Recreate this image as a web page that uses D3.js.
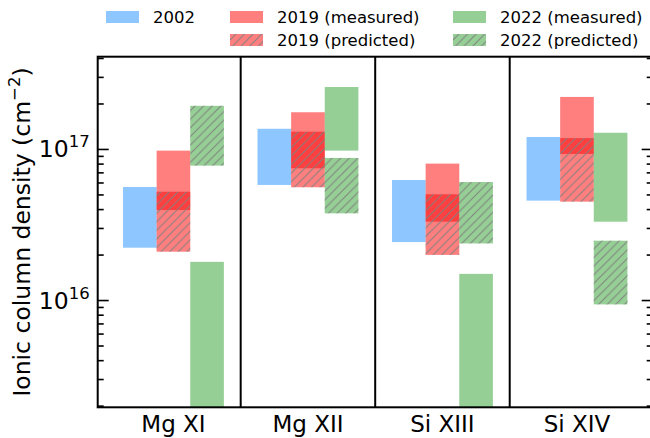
<!DOCTYPE html>
<html>
<head>
<meta charset="utf-8">
<script src="https://cdn.jsdelivr.net/npm/d3@7"></script>
<style>
  body { margin: 0; background: #fff; }
  svg { display: block; font-family: "DejaVu Sans", sans-serif; }
</style>
</head>
<body>
<div class="svg-container"></div>
<script>
// ions along the x axis
var ions = ["Mg XI", "Mg XII", "Si XIII", "Si XIV"];

// [low, high] column density ranges, cm^-2
var obs2002   = [[2.22e16, 5.6e16], [5.78e16, 1.36e17], [2.42e16, 6.23e16], [4.55e16, 1.20e17]];
var meas2019  = [[3.94e16, 9.75e16], [7.45e16, 1.75e17], [3.30e16, 8.0e16], [9.27e16, 2.21e17]];
var pred2019  = [[2.09e16, 5.21e16], [5.58e16, 1.30e17], [1.99e16, 5.01e16], [4.48e16, 1.18e17]];
var meas2022  = [[1e15, 1.79e16], [9.75e16, 2.57e17], [1e15, 1.49e16], [3.30e16, 1.28e17]];
var pred2022  = [[7.76e16, 1.93e17], [3.75e16, 8.72e16], [2.37e16, 6.04e16], [9.36e15, 2.47e16]];

var majorTicks = [1e16, 1e17];
var majorLabels = ["16", "17"];

var width = 650, height = 438;
// note: "top" is taken by window.top, so keep the margins in an object
var m = {left: 97.7, right: 652.7, top: 56.7, bottom: 407.3};
var barW = 0.25;

var x = d3.scaleLinear().domain([-0.563, 3.563]).range([m.left, m.right]);
var y = d3.scaleLog().domain([1.95e15, 4.08e17]).range([m.bottom, m.top]);

var series = [
  {name: "2002", data: obs2002, off: -0.25, color: "rgb(30,144,255)", hatch: false},
  {name: "2019 (measured)", data: meas2019, off: 0, color: "rgb(255,0,0)", hatch: false},
  {name: "2019 (predicted)", data: pred2019, off: 0, color: "rgb(255,0,0)", hatch: true},
  {name: "2022 (measured)", data: meas2022, off: 0.25, color: "rgb(44,160,44)", hatch: false},
  {name: "2022 (predicted)", data: pred2022, off: 0.25, color: "rgb(44,160,44)", hatch: true}
];

var svg = d3.select(".svg-container").append("svg")
  .attr("width", width).attr("height", height);

var defs = svg.append("defs");
var s = 8.6;
var pat = defs.append("pattern").attr("id", "hatch")
  .attr("patternUnits", "userSpaceOnUse")
  .attr("width", s).attr("height", s);
pat.append("path")
  .attr("d", "M0," + s + "L" + s + ",0M-2,2L2,-2M" + (s - 2) + "," + (s + 2) + "L" + (s + 2) + "," + (s - 2))
  .attr("stroke", "#808080").attr("stroke-width", 1).attr("fill", "none");

defs.append("clipPath").attr("id", "plotclip")
  .append("rect").attr("x", m.left).attr("y", m.top)
  .attr("width", m.right - m.left).attr("height", m.bottom - m.top);

var plot = svg.append("g").attr("clip-path", "url(#plotclip)");

series.forEach(function(sr) {
  var g = plot.append("g");
  var bars = g.selectAll("g").data(sr.data).enter().append("g");
  bars.append("rect")
    .attr("x", function(d, i) { return x(i + sr.off - barW / 2); })
    .attr("width", x(barW) - x(0))
    .attr("y", function(d) { return y(d[1]); })
    .attr("height", function(d) { return y(d[0]) - y(d[1]); })
    .attr("fill", sr.color).attr("fill-opacity", 0.5);
  if(sr.hatch) {
    bars.append("rect")
      .attr("x", function(d, i) { return x(i + sr.off - barW / 2); })
      .attr("width", x(barW) - x(0))
      .attr("y", function(d) { return y(d[1]); })
      .attr("height", function(d) { return y(d[0]) - y(d[1]); })
      .attr("fill", "url(#hatch)");
  }
});

// category separators
svg.append("g").selectAll("line")
  .data(d3.range(1, ions.length).map(function(i) { return i - 0.5; }))
  .enter().append("line")
  .attr("x1", function(d) { return x(d); }).attr("x2", function(d) { return x(d); })
  .attr("y1", m.top).attr("y2", m.bottom)
  .attr("stroke", "#000").attr("stroke-width", 2);

// ticks, pointing inward on both sides
var minorTicks = y.ticks().filter(function(t) { return majorTicks.indexOf(t) < 0; });

function tickAxis(axisFn, xpos, vals, size) {
  svg.append("g").attr("transform", "translate(" + xpos + ",0)")
    .call(axisFn(y).tickValues(vals).tickSize(-size).tickFormat(""))
    .call(function(g) { g.select(".domain").remove(); })
    .selectAll("line").attr("stroke", "#000").attr("stroke-width", 1.6);
}
tickAxis(d3.axisLeft, m.left, minorTicks, 6);
tickAxis(d3.axisLeft, m.left, majorTicks, 11);
tickAxis(d3.axisRight, m.right, minorTicks, 6);
tickAxis(d3.axisRight, m.right, majorTicks, 11);

// y tick labels 10^n
var yl = svg.append("g").selectAll("text").data(majorTicks).enter().append("text")
  .attr("x", m.left - 8).attr("y", function(d) { return y(d) + 8.5; })
  .attr("text-anchor", "end").attr("font-size", 23.5).attr("fill", "#000");
yl.append("tspan").text("10");
yl.append("tspan").attr("font-size", 16.5).attr("dy", -10)
  .text(function(d, i) { return majorLabels[i]; });

// spines
svg.append("rect").attr("x", m.left).attr("y", m.top)
  .attr("width", m.right - m.left).attr("height", m.bottom - m.top)
  .attr("fill", "none").attr("stroke", "#000").attr("stroke-width", 2);

// x labels
svg.append("g").selectAll("text").data(ions).enter().append("text")
  .attr("x", function(d, i) { return x(i); }).attr("y", 431.5)
  .attr("text-anchor", "middle").attr("font-size", 23).attr("fill", "#000")
  .text(function(d) { return d; });

// y label
var ylab = svg.append("text")
  .attr("transform", "translate(29.5," + ((m.top + m.bottom) / 2) + ") rotate(-90)")
  .attr("text-anchor", "middle").attr("font-size", 23.5).attr("fill", "#000");
ylab.append("tspan").text("Ionic column density (cm");
ylab.append("tspan").attr("font-size", 16.5).attr("dy", -10).text("\u22122");
ylab.append("tspan").attr("dy", 10).text(")");

// legend: three columns
var legendPos = [
  {col: 0, row: 0}, {col: 1, row: 0}, {col: 1, row: 1}, {col: 2, row: 0}, {col: 2, row: 1}
];
var colX = [106, 230, 453];
var rowY = [17, 40];
var leg = svg.append("g").selectAll("g").data(series).enter().append("g")
  .attr("transform", function(d, i) {
    return "translate(" + colX[legendPos[i].col] + "," + rowY[legendPos[i].row] + ")";
  });
leg.append("rect").attr("x", 0).attr("y", -6).attr("width", 33).attr("height", 12)
  .attr("fill", function(d) { return d.color; }).attr("fill-opacity", 0.5);
leg.filter(function(d) { return d.hatch; }).append("rect")
  .attr("x", 0).attr("y", -6).attr("width", 33).attr("height", 12)
  .attr("fill", "url(#hatch)");
leg.append("text").attr("x", 47).attr("y", 6)
  .attr("font-size", 16.5).attr("fill", "#000")
  .text(function(d) { return d.name; });
</script>
</body>
</html>
